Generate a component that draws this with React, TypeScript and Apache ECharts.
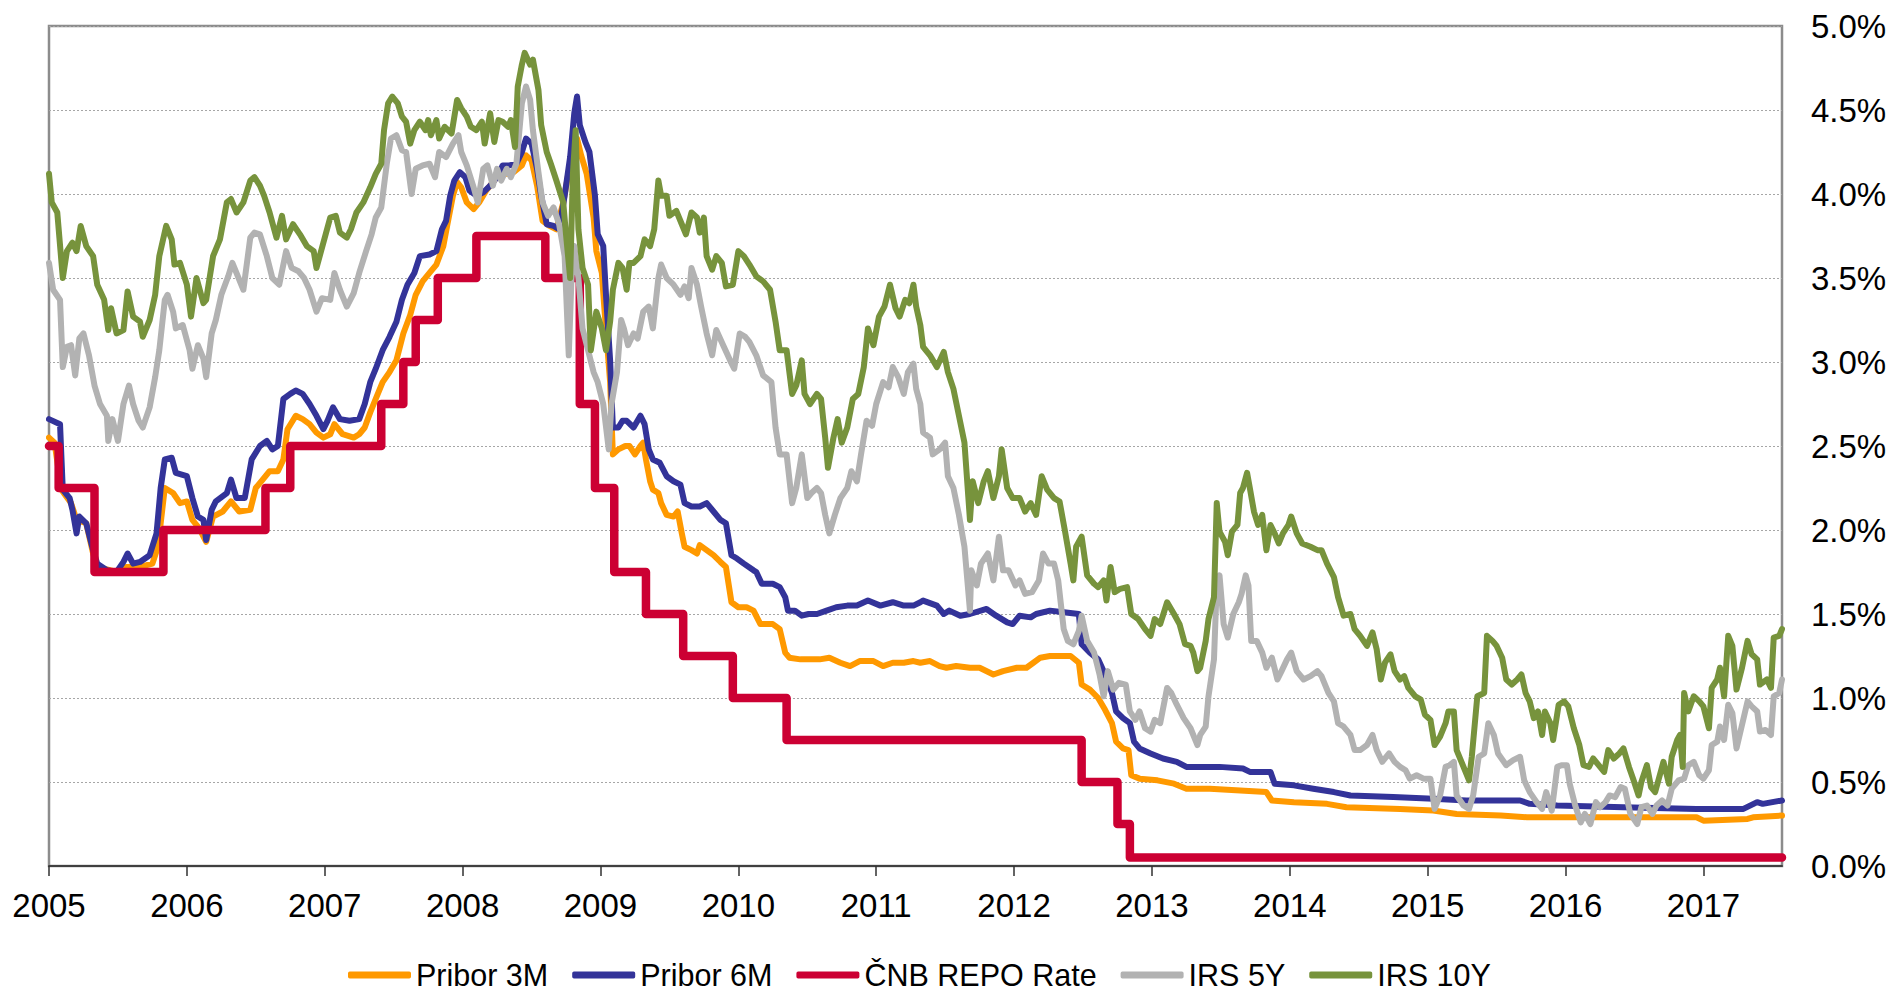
import React, { useEffect, useRef } from "react";
import * as echarts from "echarts";

const YEARS = [2005, 2006, 2007, 2008, 2009, 2010, 2011, 2012, 2013, 2014, 2015, 2016, 2017];
const X_MIN = 2005;
const X_MAX = 2017.57;

const SERIES_NAMES = ["Pribor 3M", "Pribor 6M", "ČNB REPO Rate", "IRS 5Y", "IRS 10Y"];
const SERIES_COLORS = ["#FF9900", "#333399", "#CC0033", "#B2B2B2", "#77933C"];

const pribor3m: number[][] = [
  [2005.00,2.55],[2005.04,2.52],[2005.09,2.24],[2005.16,2.16],[2005.20,2.06],[2005.27,2.04],[2005.32,1.86],[2005.35,1.78],[2005.49,1.75],[2005.56,1.78],[2005.66,1.78],[2005.75,1.80],[2005.79,1.90],[2005.84,2.25],[2005.90,2.22],[2005.95,2.16],[2006.00,2.17],[2006.04,2.06],[2006.09,2.01],[2006.14,1.93],[2006.19,2.08],[2006.26,2.11],[2006.32,2.17],[2006.38,2.11],[2006.46,2.12],[2006.50,2.25],[2006.55,2.30],[2006.60,2.35],[2006.66,2.35],[2006.70,2.42],[2006.73,2.60],[2006.79,2.68],[2006.84,2.66],[2006.89,2.63],[2006.94,2.58],[2006.99,2.55],[2007.04,2.57],[2007.07,2.63],[2007.13,2.57],[2007.21,2.55],[2007.25,2.57],[2007.29,2.61],[2007.33,2.70],[2007.37,2.78],[2007.42,2.88],[2007.47,2.94],[2007.52,3.01],[2007.57,3.17],[2007.62,3.28],[2007.66,3.40],[2007.71,3.48],[2007.76,3.53],[2007.81,3.58],[2007.86,3.69],[2007.89,3.82],[2007.93,3.99],[2007.96,4.07],[2007.99,4.04],[2008.03,3.95],[2008.08,3.91],[2008.12,3.95],[2008.17,4.02],[2008.22,4.07],[2008.27,4.13],[2008.32,4.12],[2008.37,4.13],[2008.43,4.17],[2008.46,4.23],[2008.50,4.20],[2008.54,4.05],[2008.58,3.84],[2008.63,3.81],[2008.68,3.79],[2008.73,3.95],[2008.78,4.18],[2008.83,4.33],[2008.86,4.23],[2008.90,4.12],[2008.95,3.86],[2008.97,3.66],[2009.01,3.53],[2009.03,3.30],[2009.07,2.88],[2009.09,2.45],[2009.13,2.48],[2009.18,2.50],[2009.21,2.50],[2009.25,2.45],[2009.29,2.50],[2009.31,2.52],[2009.33,2.42],[2009.36,2.29],[2009.38,2.24],[2009.42,2.22],[2009.44,2.16],[2009.48,2.09],[2009.53,2.08],[2009.56,2.11],[2009.59,1.98],[2009.61,1.90],[2009.66,1.88],[2009.70,1.86],[2009.72,1.91],[2009.77,1.88],[2009.82,1.85],[2009.87,1.81],[2009.91,1.78],[2009.95,1.57],[2010.00,1.54],[2010.06,1.54],[2010.11,1.52],[2010.16,1.44],[2010.20,1.44],[2010.25,1.44],[2010.30,1.41],[2010.34,1.27],[2010.37,1.24],[2010.45,1.23],[2010.52,1.23],[2010.59,1.23],[2010.66,1.24],[2010.74,1.21],[2010.81,1.19],[2010.88,1.22],[2010.98,1.22],[2011.05,1.19],[2011.12,1.21],[2011.20,1.21],[2011.27,1.22],[2011.32,1.21],[2011.39,1.22],[2011.46,1.19],[2011.51,1.18],[2011.58,1.19],[2011.68,1.18],[2011.75,1.18],[2011.85,1.14],[2011.92,1.16],[2012.02,1.18],[2012.09,1.18],[2012.14,1.21],[2012.19,1.24],[2012.26,1.25],[2012.33,1.25],[2012.41,1.25],[2012.47,1.21],[2012.49,1.08],[2012.55,1.05],[2012.61,1.00],[2012.66,0.93],[2012.71,0.85],[2012.74,0.74],[2012.79,0.70],[2012.83,0.69],[2012.85,0.54],[2012.91,0.52],[2013.04,0.51],[2013.16,0.49],[2013.25,0.46],[2013.42,0.46],[2013.83,0.44],[2013.87,0.39],[2014.03,0.38],[2014.27,0.37],[2014.41,0.35],[2014.80,0.34],[2015.04,0.33],[2015.21,0.31],[2015.53,0.30],[2015.72,0.29],[2016.42,0.29],[2016.95,0.29],[2017.00,0.27],[2017.32,0.28],[2017.36,0.29],[2017.57,0.30]
];

const pribor6m: number[][] = [
  [2005.00,2.66],[2005.08,2.63],[2005.10,2.24],[2005.15,2.19],[2005.17,2.12],[2005.20,1.98],[2005.22,2.08],[2005.27,2.04],[2005.32,1.88],[2005.35,1.80],[2005.42,1.76],[2005.49,1.75],[2005.54,1.81],[2005.57,1.86],[2005.61,1.80],[2005.66,1.81],[2005.73,1.85],[2005.78,1.98],[2005.81,2.25],[2005.84,2.42],[2005.89,2.43],[2005.92,2.34],[2006.00,2.32],[2006.04,2.19],[2006.08,2.08],[2006.12,2.06],[2006.14,1.94],[2006.18,2.12],[2006.21,2.17],[2006.29,2.22],[2006.32,2.30],[2006.36,2.19],[2006.42,2.19],[2006.47,2.42],[2006.53,2.50],[2006.58,2.53],[2006.62,2.48],[2006.66,2.50],[2006.70,2.78],[2006.75,2.81],[2006.79,2.83],[2006.84,2.81],[2006.89,2.75],[2006.94,2.68],[2006.99,2.60],[2007.02,2.65],[2007.06,2.73],[2007.11,2.66],[2007.18,2.65],[2007.25,2.66],[2007.29,2.75],[2007.33,2.88],[2007.37,2.96],[2007.42,3.07],[2007.47,3.15],[2007.52,3.24],[2007.56,3.37],[2007.60,3.46],[2007.65,3.53],[2007.69,3.63],[2007.76,3.64],[2007.81,3.66],[2007.85,3.79],[2007.88,3.84],[2007.91,3.99],[2007.94,4.08],[2007.98,4.13],[2008.02,4.10],[2008.05,4.02],[2008.10,3.99],[2008.15,4.01],[2008.20,4.05],[2008.25,4.10],[2008.29,4.17],[2008.34,4.17],[2008.39,4.18],[2008.43,4.25],[2008.46,4.33],[2008.50,4.30],[2008.54,4.15],[2008.57,3.99],[2008.61,3.82],[2008.66,3.81],[2008.70,3.79],[2008.74,3.99],[2008.78,4.22],[2008.81,4.48],[2008.83,4.58],[2008.85,4.41],[2008.89,4.31],[2008.92,4.25],[2008.96,3.99],[2008.98,3.76],[2009.02,3.69],[2009.04,3.40],[2009.07,3.01],[2009.09,2.61],[2009.13,2.61],[2009.16,2.65],[2009.19,2.65],[2009.24,2.61],[2009.29,2.68],[2009.32,2.63],[2009.35,2.48],[2009.38,2.42],[2009.43,2.40],[2009.48,2.32],[2009.53,2.29],[2009.58,2.27],[2009.61,2.16],[2009.66,2.14],[2009.72,2.14],[2009.77,2.16],[2009.82,2.11],[2009.87,2.06],[2009.91,2.04],[2009.95,1.85],[2009.99,1.83],[2010.04,1.80],[2010.11,1.76],[2010.13,1.75],[2010.17,1.68],[2010.25,1.68],[2010.30,1.66],[2010.34,1.60],[2010.36,1.52],[2010.41,1.52],[2010.46,1.49],[2010.51,1.50],[2010.57,1.50],[2010.64,1.52],[2010.71,1.54],[2010.79,1.55],[2010.86,1.55],[2010.94,1.58],[2011.03,1.55],[2011.12,1.57],[2011.20,1.55],[2011.27,1.55],[2011.32,1.57],[2011.34,1.58],[2011.44,1.55],[2011.49,1.50],[2011.53,1.52],[2011.61,1.49],[2011.68,1.50],[2011.80,1.53],[2011.87,1.49],[2011.95,1.45],[2011.99,1.44],[2012.04,1.49],[2012.12,1.48],[2012.16,1.50],[2012.26,1.52],[2012.36,1.51],[2012.47,1.50],[2012.49,1.32],[2012.55,1.27],[2012.61,1.23],[2012.66,1.14],[2012.71,1.03],[2012.74,0.92],[2012.79,0.88],[2012.84,0.85],[2012.87,0.74],[2012.91,0.70],[2012.99,0.67],[2013.08,0.64],[2013.18,0.62],[2013.25,0.59],[2013.49,0.59],[2013.66,0.58],[2013.71,0.56],[2013.86,0.56],[2013.89,0.49],[2014.03,0.48],[2014.17,0.46],[2014.32,0.44],[2014.44,0.42],[2014.75,0.41],[2015.04,0.40],[2015.28,0.39],[2015.67,0.39],[2015.74,0.37],[2015.94,0.36],[2016.42,0.35],[2016.95,0.34],[2017.29,0.34],[2017.39,0.38],[2017.43,0.37],[2017.57,0.39]
];

const cnbRepo: number[][] = [
  [2005.00,2.5],[2005.07,2.25],[2005.33,1.75],[2005.83,2.0],[2006.57,2.25],[2006.75,2.5],[2007.41,2.75],[2007.57,3.0],[2007.66,3.25],[2007.82,3.5],[2008.10,3.75],[2008.60,3.5],[2008.85,2.75],[2008.96,2.25],[2009.10,1.75],[2009.33,1.5],[2009.60,1.25],[2009.96,1.0],[2010.35,0.75],[2012.49,0.5],[2012.75,0.25],[2012.84,0.05],[2017.57,0.05]
];

const irs5y: number[][] = [
  [2005.00,3.59],[2005.03,3.43],[2005.08,3.37],[2005.10,2.97],[2005.13,3.09],[2005.16,3.10],[2005.19,2.92],[2005.22,3.14],[2005.25,3.17],[2005.29,3.04],[2005.33,2.86],[2005.37,2.75],[2005.42,2.68],[2005.43,2.53],[2005.46,2.66],[2005.50,2.53],[2005.54,2.75],[2005.58,2.86],[2005.61,2.75],[2005.65,2.65],[2005.68,2.61],[2005.73,2.73],[2005.77,2.91],[2005.80,3.07],[2005.84,3.37],[2005.86,3.40],[2005.90,3.30],[2005.92,3.20],[2005.97,3.22],[2006.02,3.07],[2006.04,2.96],[2006.08,3.10],[2006.12,3.02],[2006.14,2.91],[2006.18,3.17],[2006.21,3.25],[2006.25,3.40],[2006.30,3.51],[2006.33,3.59],[2006.37,3.51],[2006.41,3.43],[2006.46,3.74],[2006.49,3.77],[2006.53,3.76],[2006.58,3.63],[2006.62,3.50],[2006.67,3.46],[2006.72,3.66],[2006.76,3.56],[2006.81,3.54],[2006.85,3.50],[2006.89,3.43],[2006.94,3.30],[2006.98,3.38],[2007.04,3.37],[2007.07,3.53],[2007.11,3.43],[2007.16,3.33],[2007.21,3.41],[2007.25,3.53],[2007.30,3.66],[2007.34,3.76],[2007.37,3.86],[2007.41,3.92],[2007.45,4.18],[2007.48,4.33],[2007.52,4.35],[2007.56,4.26],[2007.59,4.25],[2007.63,4.00],[2007.66,4.15],[2007.71,4.17],[2007.76,4.18],[2007.80,4.10],[2007.83,4.25],[2007.88,4.22],[2007.93,4.30],[2007.97,4.35],[2007.99,4.25],[2008.03,4.17],[2008.08,4.04],[2008.11,3.95],[2008.15,4.15],[2008.18,4.17],[2008.22,4.05],[2008.25,4.15],[2008.28,4.08],[2008.32,4.15],[2008.35,4.10],[2008.39,4.18],[2008.43,4.54],[2008.46,4.64],[2008.49,4.56],[2008.51,4.38],[2008.55,4.13],[2008.58,3.95],[2008.62,3.87],[2008.66,3.92],[2008.70,3.82],[2008.74,3.63],[2008.77,3.04],[2008.79,3.50],[2008.81,3.69],[2008.84,3.50],[2008.87,3.20],[2008.91,3.07],[2008.95,2.94],[2008.98,2.88],[2009.02,2.75],[2009.06,2.48],[2009.08,2.75],[2009.12,2.94],[2009.15,3.25],[2009.17,3.20],[2009.20,3.10],[2009.24,3.17],[2009.27,3.14],[2009.31,3.30],[2009.35,3.33],[2009.38,3.20],[2009.42,3.50],[2009.44,3.58],[2009.48,3.50],[2009.53,3.46],[2009.58,3.40],[2009.61,3.45],[2009.64,3.38],[2009.66,3.56],[2009.70,3.46],[2009.73,3.33],[2009.77,3.17],[2009.81,3.04],[2009.84,3.19],[2009.89,3.10],[2009.94,3.01],[2009.97,2.96],[2010.01,3.17],[2010.05,3.15],[2010.08,3.12],[2010.13,3.04],[2010.18,2.92],[2010.24,2.88],[2010.27,2.61],[2010.30,2.45],[2010.35,2.45],[2010.39,2.16],[2010.42,2.25],[2010.46,2.45],[2010.50,2.19],[2010.53,2.22],[2010.57,2.25],[2010.60,2.22],[2010.63,2.09],[2010.66,1.98],[2010.70,2.09],[2010.74,2.19],[2010.79,2.25],[2010.82,2.35],[2010.86,2.29],[2010.89,2.45],[2010.93,2.65],[2010.97,2.62],[2011.00,2.75],[2011.05,2.88],[2011.09,2.85],[2011.12,2.97],[2011.16,2.91],[2011.20,2.81],[2011.23,2.94],[2011.27,2.99],[2011.29,2.84],[2011.32,2.75],[2011.34,2.58],[2011.39,2.55],[2011.41,2.45],[2011.46,2.48],[2011.50,2.52],[2011.52,2.32],[2011.56,2.25],[2011.60,2.09],[2011.64,1.90],[2011.68,1.52],[2011.69,1.76],[2011.73,1.67],[2011.76,1.80],[2011.81,1.86],[2011.85,1.70],[2011.89,1.96],[2011.92,1.76],[2011.96,1.76],[2012.01,1.67],[2012.04,1.70],[2012.08,1.62],[2012.13,1.63],[2012.18,1.70],[2012.21,1.86],[2012.25,1.80],[2012.29,1.80],[2012.32,1.70],[2012.36,1.41],[2012.39,1.34],[2012.43,1.32],[2012.47,1.40],[2012.49,1.49],[2012.53,1.34],[2012.58,1.27],[2012.62,1.14],[2012.65,1.01],[2012.68,1.16],[2012.72,1.05],[2012.76,1.09],[2012.81,1.08],[2012.84,0.92],[2012.88,0.87],[2012.91,0.92],[2012.95,0.82],[2012.99,0.80],[2013.02,0.87],[2013.06,0.85],[2013.11,1.06],[2013.14,1.03],[2013.18,0.96],[2013.23,0.88],[2013.28,0.82],[2013.33,0.72],[2013.35,0.78],[2013.39,0.83],[2013.41,1.01],[2013.45,1.23],[2013.47,1.67],[2013.49,1.73],[2013.52,1.44],[2013.55,1.36],[2013.59,1.50],[2013.63,1.57],[2013.65,1.62],[2013.68,1.73],[2013.70,1.67],[2013.72,1.34],[2013.76,1.34],[2013.80,1.27],[2013.83,1.18],[2013.87,1.24],[2013.91,1.11],[2013.94,1.16],[2013.98,1.23],[2014.01,1.27],[2014.05,1.16],[2014.10,1.11],[2014.15,1.13],[2014.20,1.16],[2014.23,1.13],[2014.28,1.03],[2014.32,0.98],[2014.35,0.85],[2014.39,0.83],[2014.44,0.78],[2014.47,0.69],[2014.51,0.69],[2014.56,0.72],[2014.60,0.78],[2014.63,0.69],[2014.67,0.62],[2014.72,0.67],[2014.76,0.62],[2014.80,0.59],[2014.84,0.57],[2014.87,0.52],[2014.92,0.54],[2014.97,0.52],[2015.02,0.52],[2015.05,0.34],[2015.09,0.42],[2015.13,0.59],[2015.16,0.60],[2015.19,0.62],[2015.21,0.42],[2015.26,0.36],[2015.30,0.34],[2015.33,0.42],[2015.37,0.65],[2015.41,0.67],[2015.44,0.85],[2015.48,0.78],[2015.51,0.67],[2015.57,0.60],[2015.62,0.63],[2015.67,0.65],[2015.70,0.51],[2015.74,0.44],[2015.79,0.38],[2015.83,0.34],[2015.86,0.44],[2015.90,0.33],[2015.94,0.59],[2015.97,0.60],[2016.01,0.60],[2016.03,0.49],[2016.07,0.36],[2016.11,0.26],[2016.14,0.31],[2016.18,0.25],[2016.22,0.38],[2016.25,0.35],[2016.29,0.38],[2016.32,0.42],[2016.36,0.41],[2016.40,0.47],[2016.43,0.46],[2016.47,0.31],[2016.52,0.25],[2016.55,0.35],[2016.59,0.36],[2016.63,0.31],[2016.66,0.36],[2016.70,0.39],[2016.74,0.36],[2016.77,0.46],[2016.82,0.51],[2016.86,0.52],[2016.89,0.60],[2016.93,0.62],[2016.97,0.54],[2017.00,0.52],[2017.04,0.57],[2017.06,0.72],[2017.10,0.74],[2017.12,0.83],[2017.15,0.75],[2017.18,0.96],[2017.21,0.91],[2017.24,0.70],[2017.28,0.84],[2017.32,0.98],[2017.35,0.95],[2017.39,0.92],[2017.41,0.80],[2017.45,0.81],[2017.49,0.78],[2017.51,1.01],[2017.55,1.03],[2017.57,1.11]
];

const irs10y: number[][] = [
  [2005.00,4.12],[2005.02,3.95],[2005.06,3.89],[2005.10,3.50],[2005.13,3.66],[2005.17,3.71],[2005.20,3.66],[2005.23,3.81],[2005.27,3.69],[2005.32,3.63],[2005.35,3.46],[2005.40,3.37],[2005.43,3.19],[2005.45,3.32],[2005.49,3.17],[2005.54,3.19],[2005.57,3.42],[2005.61,3.27],[2005.66,3.24],[2005.68,3.15],[2005.73,3.25],[2005.77,3.40],[2005.80,3.63],[2005.85,3.81],[2005.89,3.73],[2005.91,3.58],[2005.95,3.59],[2006.00,3.46],[2006.03,3.27],[2006.07,3.50],[2006.12,3.35],[2006.14,3.37],[2006.19,3.63],[2006.24,3.73],[2006.29,3.95],[2006.32,3.97],[2006.36,3.89],[2006.41,3.95],[2006.46,4.08],[2006.49,4.10],[2006.53,4.05],[2006.56,3.99],[2006.60,3.89],[2006.65,3.74],[2006.69,3.87],[2006.72,3.73],[2006.77,3.82],[2006.82,3.76],[2006.87,3.69],[2006.92,3.66],[2006.94,3.56],[2006.99,3.71],[2007.04,3.86],[2007.08,3.87],[2007.11,3.77],[2007.16,3.74],[2007.19,3.79],[2007.23,3.89],[2007.28,3.95],[2007.33,4.04],[2007.37,4.12],[2007.41,4.18],[2007.43,4.38],[2007.46,4.54],[2007.49,4.58],[2007.53,4.54],[2007.56,4.46],[2007.59,4.43],[2007.62,4.30],[2007.65,4.38],[2007.69,4.43],[2007.73,4.38],[2007.75,4.44],[2007.77,4.35],[2007.81,4.44],[2007.83,4.33],[2007.87,4.40],[2007.92,4.36],[2007.96,4.56],[2007.99,4.51],[2008.03,4.46],[2008.06,4.40],[2008.10,4.38],[2008.14,4.43],[2008.16,4.30],[2008.20,4.48],[2008.23,4.31],[2008.26,4.44],[2008.29,4.43],[2008.33,4.40],[2008.35,4.44],[2008.38,4.28],[2008.40,4.64],[2008.43,4.77],[2008.45,4.84],[2008.49,4.77],[2008.51,4.80],[2008.55,4.62],[2008.57,4.41],[2008.61,4.25],[2008.64,4.18],[2008.68,4.08],[2008.73,3.95],[2008.75,3.76],[2008.78,3.50],[2008.80,4.12],[2008.82,4.38],[2008.84,3.79],[2008.87,3.56],[2008.91,3.46],[2008.93,3.07],[2008.97,3.30],[2009.01,3.20],[2009.04,3.07],[2009.07,3.24],[2009.09,3.43],[2009.13,3.59],[2009.16,3.56],[2009.19,3.43],[2009.21,3.59],[2009.24,3.59],[2009.29,3.63],[2009.32,3.73],[2009.36,3.69],[2009.39,3.79],[2009.42,4.08],[2009.44,3.99],[2009.48,3.99],[2009.50,3.87],[2009.55,3.90],[2009.59,3.82],[2009.62,3.76],[2009.66,3.89],[2009.70,3.86],[2009.72,3.77],[2009.75,3.86],[2009.77,3.63],[2009.81,3.55],[2009.84,3.63],[2009.88,3.59],[2009.91,3.45],[2009.96,3.46],[2010.00,3.66],[2010.04,3.63],[2010.08,3.58],[2010.13,3.51],[2010.18,3.48],[2010.23,3.43],[2010.27,3.24],[2010.30,3.07],[2010.35,3.07],[2010.39,2.81],[2010.42,2.86],[2010.46,3.01],[2010.48,2.81],[2010.52,2.75],[2010.57,2.81],[2010.60,2.78],[2010.63,2.55],[2010.65,2.37],[2010.69,2.55],[2010.72,2.66],[2010.75,2.52],[2010.79,2.61],[2010.83,2.78],[2010.87,2.81],[2010.91,2.97],[2010.94,3.20],[2010.98,3.10],[2011.02,3.27],[2011.06,3.33],[2011.10,3.46],[2011.14,3.32],[2011.17,3.27],[2011.21,3.37],[2011.24,3.35],[2011.27,3.46],[2011.29,3.33],[2011.32,3.22],[2011.34,3.09],[2011.39,3.04],[2011.44,2.97],[2011.49,3.06],[2011.52,2.94],[2011.56,2.84],[2011.60,2.68],[2011.64,2.52],[2011.68,2.06],[2011.70,2.29],[2011.74,2.16],[2011.78,2.29],[2011.81,2.35],[2011.85,2.19],[2011.89,2.32],[2011.91,2.48],[2011.95,2.25],[2011.99,2.19],[2012.04,2.19],[2012.08,2.11],[2012.12,2.16],[2012.16,2.09],[2012.20,2.32],[2012.24,2.24],[2012.29,2.19],[2012.33,2.17],[2012.37,1.99],[2012.41,1.80],[2012.43,1.70],[2012.45,1.90],[2012.49,1.96],[2012.53,1.73],[2012.58,1.68],[2012.61,1.66],[2012.65,1.70],[2012.67,1.58],[2012.70,1.78],[2012.73,1.63],[2012.77,1.65],[2012.82,1.66],[2012.85,1.50],[2012.90,1.47],[2012.95,1.41],[2012.99,1.37],[2013.02,1.47],[2013.06,1.44],[2013.11,1.57],[2013.16,1.50],[2013.20,1.44],[2013.24,1.32],[2013.28,1.31],[2013.30,1.27],[2013.33,1.16],[2013.35,1.18],[2013.39,1.34],[2013.41,1.47],[2013.45,1.60],[2013.47,2.16],[2013.49,1.99],[2013.53,1.93],[2013.55,1.85],[2013.58,1.99],[2013.62,2.03],[2013.64,2.22],[2013.66,2.25],[2013.69,2.34],[2013.71,2.25],[2013.74,2.11],[2013.77,2.03],[2013.80,2.09],[2013.83,1.88],[2013.86,2.03],[2013.89,1.98],[2013.92,1.92],[2013.95,1.98],[2013.99,2.03],[2014.01,2.08],[2014.05,1.98],[2014.09,1.92],[2014.15,1.90],[2014.20,1.88],[2014.23,1.88],[2014.27,1.80],[2014.32,1.72],[2014.35,1.60],[2014.39,1.49],[2014.44,1.50],[2014.47,1.41],[2014.51,1.37],[2014.56,1.31],[2014.60,1.39],[2014.63,1.29],[2014.66,1.11],[2014.69,1.21],[2014.73,1.26],[2014.76,1.16],[2014.80,1.11],[2014.83,1.13],[2014.86,1.06],[2014.91,1.01],[2014.95,0.99],[2014.98,0.90],[2015.02,0.87],[2015.05,0.72],[2015.09,0.77],[2015.13,0.85],[2015.15,0.92],[2015.19,0.92],[2015.21,0.69],[2015.26,0.59],[2015.30,0.51],[2015.32,0.65],[2015.36,1.01],[2015.41,1.03],[2015.43,1.37],[2015.47,1.34],[2015.50,1.31],[2015.54,1.24],[2015.57,1.11],[2015.61,1.08],[2015.65,1.11],[2015.68,1.14],[2015.71,1.03],[2015.74,0.98],[2015.77,0.88],[2015.80,0.92],[2015.83,0.78],[2015.85,0.92],[2015.89,0.85],[2015.91,0.75],[2015.95,0.96],[2015.99,0.98],[2016.02,0.95],[2016.06,0.82],[2016.10,0.72],[2016.13,0.60],[2016.17,0.59],[2016.20,0.64],[2016.24,0.60],[2016.28,0.56],[2016.31,0.69],[2016.35,0.64],[2016.39,0.67],[2016.42,0.70],[2016.46,0.59],[2016.49,0.52],[2016.53,0.42],[2016.55,0.50],[2016.59,0.60],[2016.62,0.47],[2016.65,0.44],[2016.69,0.56],[2016.71,0.62],[2016.75,0.49],[2016.77,0.65],[2016.81,0.75],[2016.83,0.78],[2016.85,0.59],[2016.86,1.03],[2016.89,0.92],[2016.93,1.01],[2016.97,0.98],[2017.00,0.95],[2017.04,0.82],[2017.06,1.06],[2017.10,1.11],[2017.12,1.18],[2017.15,1.01],[2017.18,1.37],[2017.21,1.31],[2017.24,1.05],[2017.28,1.18],[2017.32,1.34],[2017.35,1.26],[2017.39,1.23],[2017.41,1.08],[2017.46,1.11],[2017.49,1.06],[2017.51,1.36],[2017.55,1.37],[2017.57,1.41]
];

const SERIES_DATA = [pribor3m, pribor6m, cnbRepo, irs5y, irs10y];
const LINE_WIDTHS = [6, 6, 8.5, 6, 6];

const FONT = '"Liberation Sans", Arial, sans-serif';

export default function App() {
  const ref = useRef<HTMLDivElement>(null);

  useEffect(() => {
    document.body.style.margin = "0";
    if (!ref.current) return;
    const chart = echarts.init(ref.current, null, { renderer: "svg" });

    const series = SERIES_NAMES.map((name, i) => ({
      name,
      type: "line",
      data: SERIES_DATA[i],
      showSymbol: false,
      symbol: "none",
      step: i === 2 ? "end" : false,
      color: SERIES_COLORS[i],
      itemStyle: { color: SERIES_COLORS[i] },
      lineStyle: { color: SERIES_COLORS[i], width: LINE_WIDTHS[i], join: "round", cap: "round" },
      emphasis: { disabled: true },
      z: 2 + i,
    }));

    chart.setOption({
      animation: false,
      backgroundColor: "#ffffff",
      textStyle: { fontFamily: FONT },
      grid: {
        left: 49,
        right: 114,
        top: 26,
        bottom: 126,
        show: true,
        borderColor: "#8c8c8c",
        borderWidth: 2.5,
        backgroundColor: "transparent",
      },
      xAxis: {
        type: "value",
        min: X_MIN,
        max: X_MAX,
        axisLine: { show: true, onZero: false, lineStyle: { color: "#404040", width: 2 } },
        axisTick: {
          show: true,
          customValues: YEARS,
          length: 10,
          inside: false,
          lineStyle: { color: "#303030", width: 1.5 },
        },
        axisLabel: {
          customValues: YEARS,
          formatter: (v: number) => String(Math.round(v)),
          color: "#000",
          fontSize: 33,
          fontFamily: FONT,
          margin: 23,
        },
        splitLine: { show: false },
      },
      yAxis: {
        type: "value",
        position: "right",
        min: 0,
        max: 5,
        interval: 0.5,
        axisLine: { show: false },
        axisTick: { show: false },
        axisLabel: {
          formatter: (v: number) => v.toFixed(1) + "%",
          color: "#000",
          fontSize: 33,
          fontFamily: FONT,
          margin: 29,
        },
        splitLine: { show: true, lineStyle: { color: "#a6a6a6", width: 1, type: [2, 2] } },
      },
      legend: {
        left: 343,
        top: 954,
        itemWidth: 63,
        itemHeight: 7,
        itemGap: 24,
        icon: "roundRect",
        data: SERIES_NAMES,
        textStyle: { fontSize: 30.5, color: "#000", fontFamily: FONT, lineHeight: 32 },
      },
      series,
    });

    return () => chart.dispose();
  }, []);

  return <div ref={ref} style={{ width: 1896, height: 992 }} />;
}
